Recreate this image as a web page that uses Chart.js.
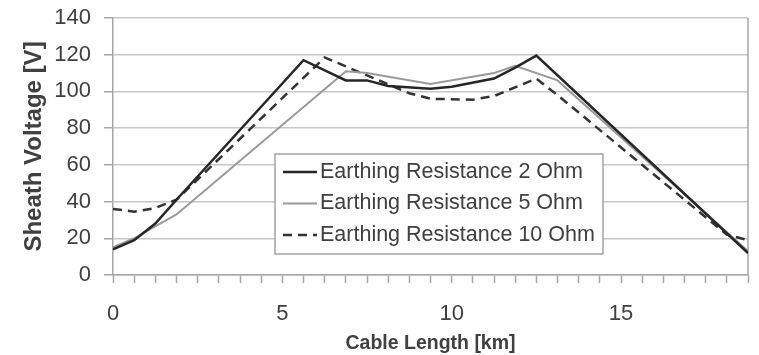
<!DOCTYPE html>
<html>
<head>
<meta charset="utf-8">
<script src="https://cdn.jsdelivr.net/npm/chart.js@4/dist/chart.umd.min.js"></script>
<style>
  html, body { margin: 0; padding: 0; background: #fff; }
  #wrap { width: 759px; height: 355px; }
</style>
</head>
<body>
<div id="wrap"><canvas id="sheathChart" width="759" height="355"></canvas></div>
<script>
// Sheath voltage along the cable (km / V)
const ohm2Km = [0, 0.625, 1.25, 1.875, 5.625, 6.875, 7.5, 8.125, 9.375, 10, 11.25, 11.875, 12.5, 18.75];
const ohm2V  = [14, 19, 28, 41, 117, 106, 106, 103, 101.5, 102.5, 107, 113, 119.5, 12];

const ohm5Km = [0, 0.625, 1.875, 6.875, 7.5, 9.375, 11.25, 11.875, 13.125, 18.75];
const ohm5V  = [15, 20, 33, 111, 110, 104, 110, 114, 106, 13];

const ohm10Km = [0, 0.625, 1.25, 1.875, 6.25, 8.75, 9.375, 10.625, 11.25, 12.5, 13.125, 18.125, 18.75];
const ohm10V  = [36, 34.5, 36.5, 41, 118.5, 99, 96, 95.5, 97.5, 107, 98, 22, 19];

const seriesLabels = ['Earthing Resistance 2 Ohm', 'Earthing Resistance 5 Ohm', 'Earthing Resistance 10 Ohm'];
const xLabelValues = [0, 5, 10, 15];

const FONT = '"Liberation Sans", Arial, sans-serif';
const TEXT = '#404040';
const AXIS = '#a6a6a6';

function toPoints(xs, ys) {
    return xs.map((x, i) => ({x: x, y: ys[i]}));
}

// legend drawn inside the plot, boxed like the original
const boxLegendPlugin = {
    id: 'boxLegend',
    afterDraw(chart, args, opts) {
        const {ctx, chartArea} = chart;
        const x0 = chartArea.left + opts.offsetX;
        const y0 = chartArea.top + opts.offsetY;
        ctx.save();
        ctx.fillStyle = '#fff';
        ctx.fillRect(x0, y0, opts.width, opts.height);
        ctx.strokeStyle = '#8c8c8c';
        ctx.lineWidth = 1.2;
        ctx.strokeRect(x0, y0, opts.width, opts.height);
        ctx.font = opts.fontSize + 'px ' + FONT;
        ctx.textBaseline = 'middle';
        chart.data.datasets.forEach((ds, i) => {
            const cy = y0 + opts.firstRow + i * opts.rowGap;
            ctx.beginPath();
            ctx.strokeStyle = ds.borderColor;
            ctx.lineWidth = ds.borderWidth;
            ctx.setLineDash(ds.borderDash || []);
            ctx.moveTo(x0 + 8, cy);
            ctx.lineTo(x0 + 8 + opts.symbolLen, cy);
            ctx.stroke();
            ctx.setLineDash([]);
            ctx.fillStyle = TEXT;
            ctx.fillText(ds.label, x0 + 11 + opts.symbolLen, cy);
        });
        ctx.restore();
    }
};

// right hand frame line
const rightEdgePlugin = {
    id: 'rightEdge',
    beforeDatasetsDraw(chart) {
        const {ctx, chartArea} = chart;
        ctx.save();
        ctx.strokeStyle = AXIS;
        ctx.lineWidth = 1.5;
        ctx.beginPath();
        ctx.moveTo(chartArea.right, chartArea.top);
        ctx.lineTo(chartArea.right, chartArea.bottom);
        ctx.stroke();
        ctx.restore();
    }
};

const ctx = document.getElementById('sheathChart').getContext('2d');
new Chart(ctx, {
    type: 'line',
    data: {
        datasets: [
            {
                label: seriesLabels[0],
                data: toPoints(ohm2Km, ohm2V),
                borderColor: '#262626',
                borderWidth: 2.5
            },
            {
                label: seriesLabels[1],
                data: toPoints(ohm5Km, ohm5V),
                borderColor: '#9a9a9a',
                borderWidth: 2
            },
            {
                label: seriesLabels[2],
                data: toPoints(ohm10Km, ohm10V),
                borderColor: '#333333',
                borderWidth: 2.5,
                borderDash: [9, 6]
            }
        ]
    },
    options: {
        responsive: false,
        animation: false,
        parsing: false,
        elements: {
            point: { radius: 0 },
            line: { tension: 0, fill: false }
        },
        layout: { padding: { top: 18, right: 11, left: 0, bottom: 0 } },
        plugins: {
            legend: { display: false },
            tooltip: { enabled: false },
            boxLegend: {
                offsetX: 162,
                offsetY: 136,
                width: 328,
                height: 100,
                firstRow: 18,
                rowGap: 31.5,
                symbolLen: 34,
                fontSize: 21.5
            }
        },
        scales: {
            x: {
                type: 'linear',
                min: 0,
                max: 18.75,
                afterFit(scale) {
                    scale.height = 80;
                    scale.paddingLeft = 0;
                    scale.paddingRight = 0;
                },
                ticks: {
                    stepSize: 0.625,
                    autoSkip: false,
                    maxRotation: 0,
                    padding: 18,
                    color: TEXT,
                    font: { family: FONT, size: 22 },
                    callback: (v) => xLabelValues.includes(v) ? String(v) : ''
                },
                grid: {
                    drawOnChartArea: false,
                    drawTicks: true,
                    tickLength: 8,
                    tickColor: AXIS,
                    tickWidth: 1.5
                },
                border: { color: AXIS, width: 1.5 },
                title: {
                    display: true,
                    text: 'Cable Length [km]',
                    color: TEXT,
                    font: { family: FONT, size: 19.5, weight: 'bold' },
                    padding: { top: 0, bottom: 0 }
                }
            },
            y: {
                min: 0,
                max: 140,
                afterFit(scale) {
                    scale.width = 113;
                    scale.paddingTop = 0;
                    scale.paddingBottom = 0;
                },
                ticks: {
                    stepSize: 20,
                    padding: 13,
                    color: TEXT,
                    font: { family: FONT, size: 22 }
                },
                grid: {
                    color: '#c8c8c8',
                    lineWidth: 1.5,
                    drawTicks: true,
                    tickLength: 9,
                    tickColor: AXIS,
                    tickWidth: 1.5
                },
                border: { color: AXIS, width: 1.5 },
                title: {
                    display: true,
                    text: 'Sheath Voltage [V]',
                    color: TEXT,
                    font: { family: FONT, size: 24, weight: 'bold' },
                    padding: { top: 20, bottom: 0 }
                }
            }
        }
    },
    plugins: [rightEdgePlugin, boxLegendPlugin]
});
</script>
</body>
</html>
